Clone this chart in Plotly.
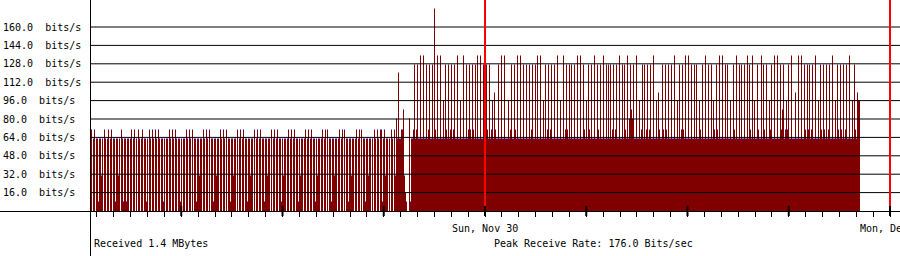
import pandas as pd
import plotly.graph_objects as go

# ---------------- data ----------------
first_sample = "2008-11-29 00:39:06.667"   # time of the first graph column
view_end = "2008-12-01 00:35:33.333"       # right edge of the graph
sample_seconds = 86400 / 405               # one consolidated sample per column

rx_nov29_early = [
    71, 0, 63, 71, 0, 63, 63, 8, 63, 63, 31, 63, 0, 71, 63, 0, 63, 71, 0, 63, 71, 0, 63, 63, 8,
    63, 63, 31, 63, 0, 71, 63, 8, 63, 63, 8, 63, 63, 0, 63, 71, 0, 63, 71, 0,
    63, 0, 71, 63, 0, 63, 71, 0, 63, 63, 8, 63, 0, 71, 63, 0, 71, 63, 0, 71, 63, 0, 71, 63, 0,
    63, 63, 8, 63, 0, 63, 63, 0, 71, 63, 0, 71, 63, 0, 71, 63, 0, 63, 63, 8,
    63, 0, 63, 63, 0, 71, 63, 0, 71, 63, 0, 71, 0, 63, 63, 8, 63, 63, 31, 63, 63, 0, 71, 63, 0,
    71, 63, 0, 71, 0, 63, 63, 8, 63, 63, 31, 63, 63, 0, 71, 63, 0, 71, 63, 0,
]
rx_nov29_late = [
    71, 0, 63, 63, 8, 63, 63, 31, 63, 63, 0, 71, 0, 63, 71, 0, 63, 71, 0, 63, 63, 8, 63, 63, 31,
    63, 63, 0, 71, 0, 63, 71, 0, 63, 71, 0, 63, 63, 8, 63, 63, 31, 63, 63, 0,
    71, 0, 63, 71, 0, 63, 71, 0, 63, 63, 8, 63, 31, 63, 63, 0, 63, 71, 0, 63, 71, 0, 63, 71, 0,
    63, 63, 8, 63, 31, 63, 63, 0, 63, 71, 0, 63, 71, 0, 63, 71, 0, 63, 63, 8,
    63, 31, 63, 63, 0, 63, 71, 0, 63, 71, 0, 71, 0, 63, 63, 8, 63, 63, 31, 63, 63, 0, 63, 71, 0,
    63, 71, 0, 71, 0, 63, 63, 8, 63, 63, 31, 63, 63, 0, 63, 71, 0, 63, 71, 0,
    71, 0, 63, 63, 8, 63, 63, 31, 63, 63, 0, 63, 0, 71, 63, 0, 71, 63, 0, 71, 71, 8, 63, 71, 31,
    63, 63, 0, 63, 0, 71, 63, 0, 71,
]
rx_ramp = [31, 80, 63, 120, 63, 63, 71, 71, 88, 31, 16, 8, 0, 0, 80, 8]
rx_nov30_a = [
    63, 63, 71, 127, 63, 71, 127, 63, 63, 135,
    63, 63, 135, 63, 63, 127, 63, 71, 127, 63,
    63, 127, 63, 176, 71, 63, 135, 63, 63, 135,
    63, 63, 96, 63, 127, 71, 63, 127, 63, 71,
    127, 63, 71, 127, 63, 63, 135, 63, 63, 96,
    63, 63, 135, 63, 63, 127, 63, 71, 127, 71,
    63, 127, 71, 63, 127, 63, 135, 63, 63, 135,
    63, 63, 127, 127, 127, 127, 71, 63, 127, 63,
    71, 96, 63, 103, 71, 63, 63, 127, 63, 63,
    135, 63, 63, 135, 63, 63, 63, 96, 63, 71,
    127, 63, 63, 127, 71, 63, 135, 63, 63, 135,
    63, 63, 127, 63, 63, 127, 63, 63, 127, 63,
    71, 127, 63, 63, 127, 63, 135, 63, 63, 135,
    63, 63, 96, 63, 127, 63, 71, 127, 63, 71,
    127, 63, 63, 127, 63, 63, 135, 63, 63, 96,
    63, 63, 135, 63, 71, 127, 71, 63, 127, 63,
    127, 63, 63, 127, 63, 63, 135, 63, 63, 135,
    63, 63, 127, 71, 63, 96, 63, 127, 71, 63,
    127, 63, 63, 135, 63, 63, 127, 71, 63, 127,
    63, 63, 135, 63, 63, 127, 63, 127, 63, 127,
    63, 71, 127, 63, 71, 127, 63, 63, 135, 63,
    63, 127, 63, 127, 71, 63, 135, 63, 80, 127,
]
rx_nov30_b = [
    88, 80, 127, 63, 63, 135, 63, 63, 96, 63,
    71, 127, 63, 127, 63, 71, 127, 63, 71, 127,
    63, 63, 135, 63, 63, 96, 63, 103, 71, 63,
    63, 127, 71, 63, 127, 71, 63, 127, 63, 63,
    127, 63, 63, 135, 63, 63, 96, 63, 127, 63,
    71, 127, 71, 63, 135, 63, 63, 135, 63, 63,
    127, 63, 63, 127, 63, 127, 63, 63, 96, 71,
    63, 127, 63, 63, 135, 63, 63, 127, 63, 63,
    127, 63, 96, 71, 63, 127, 71, 63, 135, 63,
    63, 135, 63, 63, 127, 63, 127, 63, 63, 96,
    63, 63, 127, 71, 63, 135, 63, 63, 127, 63,
    127, 63, 63, 127, 63, 63, 135, 63, 127, 71,
    63, 135, 63, 96, 63, 63, 127, 71, 63, 63,
    135, 63, 127, 71, 63, 127, 63, 63, 96, 71,
    127, 63, 63, 135, 63, 63, 135, 63, 63, 127,
    71, 88, 127, 63, 71, 96, 71, 127, 63, 63,
    135, 63, 63, 63, 103, 63, 63, 135, 63, 63,
    135, 63, 63, 127, 71, 63, 127, 71, 127, 63,
    71, 127, 63, 63, 135, 63, 63, 96, 63, 127,
    71, 63, 127, 71, 63, 127, 63, 71, 127, 63,
    63, 135, 63, 63, 96, 63, 127, 71, 63, 127,
    71, 63, 127, 63, 71, 127, 63, 63, 135, 63,
    63, 96, 63, 127, 71, 63, 103, 96, 96,
]

y_ticks = [16, 32, 48, 64, 80, 96, 112, 128, 144, 160]
y_tick_labels = ["16.0  bits/s", "32.0  bits/s", "48.0  bits/s", "64.0  bits/s",
                 "80.0  bits/s", "96.0  bits/s", "112.0  bits/s", "128.0  bits/s",
                 "144.0  bits/s", "160.0  bits/s"]
day_ticks = ["2008-11-30 00:00", "2008-12-01 00:00"]
day_labels = ["Sun, Nov 30", "Mon, Dec 1"]
footer_left = "Received 1.4 MBytes"
footer_right = "Peak Receive Rate: 176.0 Bits/sec"

# ---------------- figure ----------------
W, H = 900, 256
L, B = 91, 45
PW, PH = W - L, H - B
Y_PER_UNIT = 1.15
FONT = dict(family="DejaVu Sans Mono", size=10, color="black")
NB = "\u00a0"

rates = rx_nov29_early + rx_nov29_late + rx_ramp + rx_nov30_a + rx_nov30_b
t0 = pd.Timestamp(first_sample)
t_end = pd.Timestamp(view_end)
step = pd.Timedelta(seconds=sample_seconds)
times = [t0 + step * (i + 0.5) for i in range(len(rates))]
tips = [0.3 if v > 0 else 0 for v in rates]
bar_w = 0.96 * sample_seconds * 1000


def py(pix):
    return (PH - pix) / PH


def pxp(pix):
    return (pix - L) / PW


fig = go.Figure()
fig.add_bar(x=times, y=rates, width=bar_w, marker=dict(color="#800000", line=dict(width=0)),
            hoverinfo="skip")
fig.add_bar(x=times, y=tips, width=bar_w, marker=dict(color="#8080ff", line=dict(width=0)),
            hoverinfo="skip")

hours = pd.date_range(t0.ceil("h"), t_end, freq="h")
majors = [h for h in hours if h.hour % 6 == 0]

shapes = []
for v in y_ticks:
    shapes.append(dict(type="line", xref="paper", yref="y", x0=0, x1=1, y0=v, y1=v,
                       line=dict(color="black", width=1), layer="above"))
for d in day_ticks:
    dt = pd.Timestamp(d)
    shapes.append(dict(type="rect", xref="x", yref="paper", x0=dt - step, x1=dt + step,
                       y0=py(206), y1=1, fillcolor="#ff0000", line=dict(width=0), layer="above"))
for h in majors:
    shapes.append(dict(type="rect", xref="x", yref="paper", x0=h - step, x1=h + step,
                       y0=py(216), y1=py(206), fillcolor="black", line=dict(width=0),
                       layer="above"))
# axis lines
shapes.append(dict(type="rect", xref="paper", yref="paper", x0=pxp(0), x1=1,
                   y0=py(212), y1=py(211), fillcolor="black", line=dict(width=0), layer="above"))
shapes.append(dict(type="rect", xref="paper", yref="paper", x0=pxp(90), x1=pxp(91),
                   y0=py(H), y1=1, fillcolor="black", line=dict(width=0), layer="above"))

ann = []
for v, lab in zip(y_ticks, y_tick_labels):
    ann.append(dict(xref="paper", yref="y", x=pxp(3), y=v, text=lab.replace(" ", NB),
                    xanchor="left", yanchor="middle", showarrow=False, font=FONT,
                    borderpad=0, borderwidth=0))
for d, lab in zip(day_ticks, day_labels):
    ann.append(dict(xref="x", yref="paper", x=pd.Timestamp(d), y=py(228), text=lab.replace(" ", NB),
                    xanchor="center", yanchor="middle", showarrow=False, font=FONT,
                    borderpad=0, borderwidth=0))
ann.append(dict(xref="paper", yref="paper", x=pxp(94), y=py(243), text=footer_left.replace(" ", NB),
                xanchor="left", yanchor="middle", showarrow=False, font=FONT,
                borderpad=0, borderwidth=0))
ann.append(dict(xref="paper", yref="paper", x=pxp(494), y=py(243), text=footer_right.replace(" ", NB),
                xanchor="left", yanchor="middle", showarrow=False, font=FONT,
                borderpad=0, borderwidth=0))

fig.update_layout(
    width=W, height=H, margin=dict(l=L, r=0, t=0, b=B, pad=0),
    paper_bgcolor="white", plot_bgcolor="white",
    barmode="stack", bargap=0, bargroupgap=0, showlegend=False, hovermode=False,
    xaxis=dict(type="date", range=[t0, t_end], tickmode="array", tickvals=list(hours),
               ticks="outside", ticklen=5, tickwidth=1, tickcolor="black",
               showticklabels=False, showgrid=False, zeroline=False, showline=False,
               fixedrange=True),
    yaxis=dict(range=[0, PH / Y_PER_UNIT], showgrid=False, zeroline=False, showline=False,
               showticklabels=False, ticks="", fixedrange=True),
    shapes=shapes, annotations=ann,
)

fig.write_html("out.html", config={"displayModeBar": False, "staticPlot": False})
